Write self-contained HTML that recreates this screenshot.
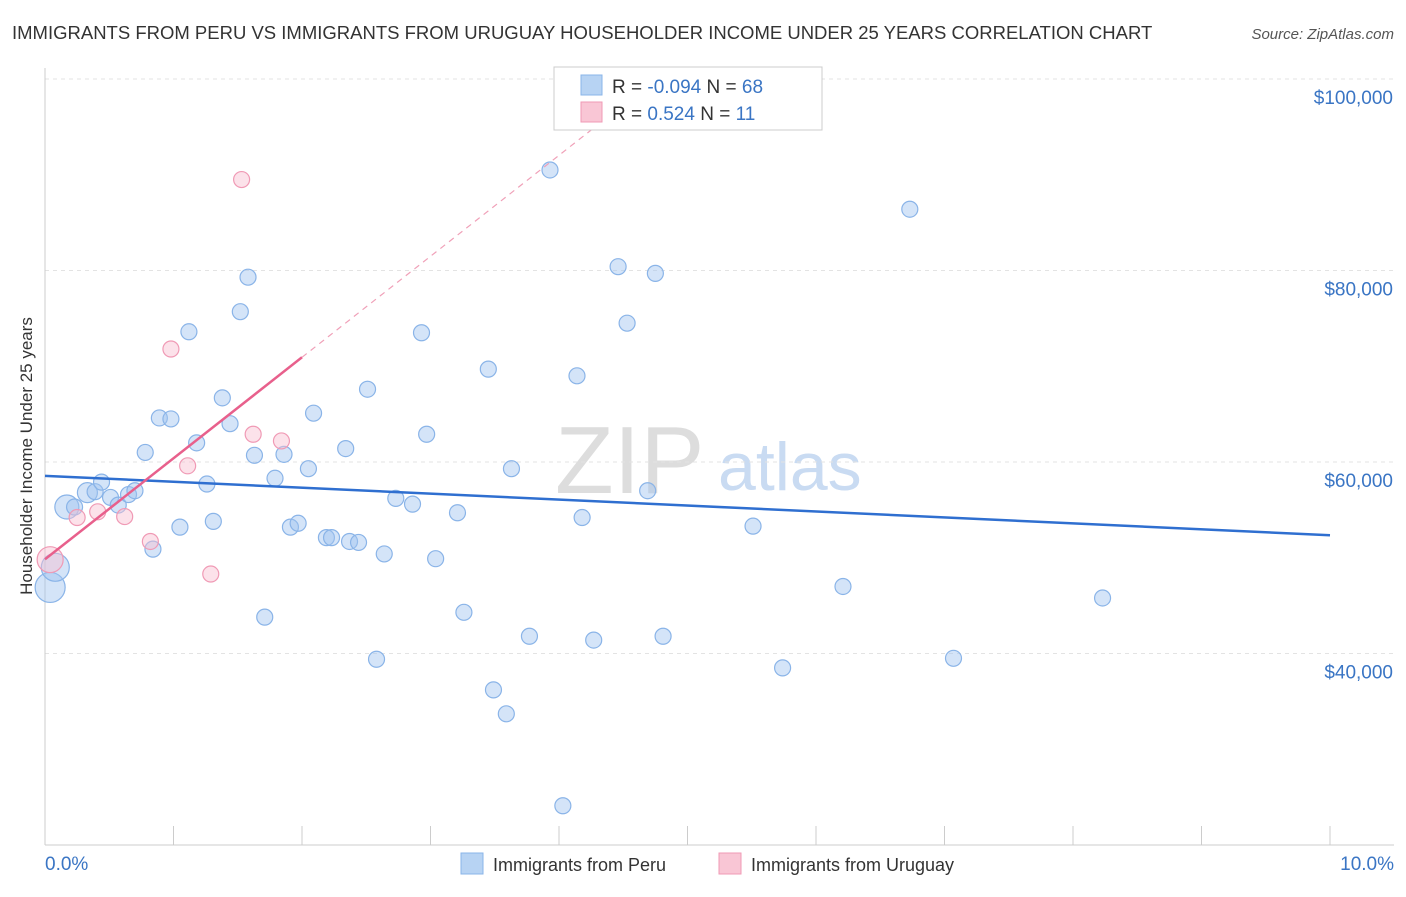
<!DOCTYPE html>
<html><head><meta charset="utf-8"><style>
body{margin:0;background:#fff;font-family:"Liberation Sans",sans-serif}
svg text{font-family:"Liberation Sans",sans-serif}
</style></head><body>
<svg id="c" width="1406" height="892">
<text x="12" y="39" font-size="18.5" fill="#333">IMMIGRANTS FROM PERU VS IMMIGRANTS FROM URUGUAY HOUSEHOLDER INCOME UNDER 25 YEARS CORRELATION CHART</text>
<text x="1394" y="39" font-size="15" fill="#555" font-style="italic" text-anchor="end">Source: ZipAtlas.com</text>
<text x="32" y="456" font-size="17" fill="#333" transform="rotate(-90 32 456)" text-anchor="middle">Householder Income Under 25 years</text>
<text x="555" y="493" font-size="96" fill="#ddd" font-family="Liberation Serif">ZIP</text>
<text x="718" y="490" font-size="68" fill="#c9dbf2">atlas</text>
<g id="grid"></g><g id="axes"></g><g id="marks"></g>
<g>
<rect x="554" y="67" width="268" height="63" fill="#fff" stroke="#ccc"/>
<rect x="581" y="75" width="21" height="20" fill="#b7d3f3" stroke="#8ab4e8"/>
<rect x="581" y="102" width="21" height="20" fill="#f9c6d5" stroke="#f09ab5"/>
<text x="612" y="93" font-size="19" fill="#333">R = <tspan fill="#3a75c4">-0.094</tspan>   N = <tspan fill="#3a75c4">68</tspan></text>
<text x="612" y="120" font-size="19" fill="#333">R =  <tspan fill="#3a75c4"> 0.524</tspan>   N =  <tspan fill="#3a75c4"> 11</tspan></text>
</g>
<g>
<rect x="461" y="853" width="22" height="21" fill="#b7d3f3" stroke="#8ab4e8"/>
<text x="493" y="871" font-size="18" fill="#333">Immigrants from Peru</text>
<rect x="719" y="853" width="22" height="21" fill="#f9c6d5" stroke="#f09ab5"/>
<text x="751" y="871" font-size="18" fill="#333">Immigrants from Uruguay</text>
</g>
</svg>
<script>
const xTicks=[0,1,2,3,4,5,6,7,8,9,10];
const yTicks=[40000,60000,80000,100000];
const yTickLabels=["$40,000","$60,000","$80,000","$100,000"];
const peruX=[0.04,0.08,0.17,0.23,0.33,0.39,0.44,0.51,0.57,0.65,0.70,0.78,0.84,0.89,0.98,1.05,1.12,1.18,1.26,1.31,1.38,1.44,1.52,1.58,1.63,1.71,1.79,1.86,1.91,1.97,2.05,2.09,2.19,2.23,2.37,2.44,2.34,2.51,2.58,2.64,2.73,2.86,2.93,2.97,3.04,3.21,3.26,3.45,3.49,3.59,3.63,3.77,3.93,4.03,4.14,4.18,4.27,4.46,4.53,4.69,4.75,4.81,5.51,5.74,6.21,6.73,7.07,8.23];
const peruY=[46.9,49.0,55.3,55.3,56.8,56.9,57.9,56.3,55.5,56.6,57.0,61.0,50.9,64.6,64.5,53.2,73.6,62.0,57.7,53.8,66.7,64.0,75.7,79.3,60.7,43.8,58.3,60.8,53.2,53.6,59.3,65.1,52.1,52.1,51.7,51.6,61.4,67.6,39.4,50.4,56.2,55.6,73.5,62.9,49.9,54.7,44.3,69.7,36.2,33.7,59.3,41.8,90.5,24.1,69.0,54.2,41.4,80.4,74.5,57.0,79.7,41.8,53.3,38.5,47.0,86.4,39.5,45.8];
const uruX=[0.04,0.25,0.41,0.62,0.82,0.98,1.11,1.29,1.53,1.62,1.84];
const uruY=[49.8,54.2,54.8,54.3,51.7,71.8,59.6,48.3,89.5,62.9,62.2];
const bigIdx={0:15,1:14,2:12,4:10};
const xs=v=>45+v*128.5, ys=k=>462-(k-60)*9.575;
const NS="http://www.w3.org/2000/svg";
function mk(p,t,a){const e=document.createElementNS(NS,t);for(const k in a)e.setAttribute(k,a[k]);document.getElementById(p).appendChild(e);return e;}
yTicks.forEach((v,i)=>{const y=ys(v/1000);
const g=mk('grid','line',{x1:45,x2:1394,y1:y,y2:y,stroke:'#e3e3e3','stroke-dasharray':'4,4'});


const t=mk('axes','text',{x:1393,y:y+25,'font-size':19,fill:'#3a75c4','text-anchor':'end'});t.textContent=yTickLabels[i];

});
mk('axes','line',{x1:45,x2:45,y1:68,y2:845,stroke:'#ccc'});
mk('axes','line',{x1:45,x2:1394,y1:845,y2:845,stroke:'#ccc'});
xTicks.forEach(v=>{const l=mk('axes','line',{x1:xs(v),x2:xs(v),y1:826,y2:845,stroke:'#ccc'});

});
const t0=mk('axes','text',{x:45,y:870,'font-size':19,fill:'#3a75c4'});t0.textContent="0.0%";


const t1=mk('axes','text',{x:1394,y:870,'font-size':19,fill:'#3a75c4','text-anchor':'end'});t1.textContent="10.0%";


function reg(X,Y){const n=X.length;let mx=0,my=0;X.forEach((x,i)=>{mx+=x;my+=Y[i]});mx/=n;my/=n;let sxy=0,sxx=0;X.forEach((x,i)=>{sxy+=(x-mx)*(Y[i]-my);sxx+=(x-mx)**2});const b=sxy/sxx;return [my-b*mx,b];}
peruX.forEach((x,i)=>{const c=mk('marks','circle',{cx:xs(x),cy:ys(peruY[i]),r:bigIdx[i]||8,fill:'rgba(160,196,240,0.45)',stroke:'#8ab4e8','stroke-width':1.2});

});
uruX.forEach((x,i)=>{const c=mk('marks','circle',{cx:xs(x),cy:ys(uruY[i]),r:i==0?13:8,fill:'rgba(248,190,208,0.45)',stroke:'#f09ab5','stroke-width':1.2});

});
const [a1,b1]=reg(peruX,peruY);
const bl=mk('marks','line',{x1:xs(0),y1:ys(a1),x2:xs(10),y2:ys(a1+b1*10),stroke:'#2f6fd0','stroke-width':2.5});


const [a2,b2]=reg(uruX,uruY);
const xe=Math.max(...uruX)+0.16;
const pl=mk('marks','line',{x1:xs(0),y1:ys(a2),x2:xs(xe),y2:ys(a2+b2*xe),stroke:'#e8608c','stroke-width':2.5});


const xt=(95-a2)/b2;
const pd=mk('marks','line',{x1:xs(xe),y1:ys(a2+b2*xe),x2:xs(xt),y2:ys(95),stroke:'#f0a0b8','stroke-width':1.2,'stroke-dasharray':'6,5'});


</script>
</body></html>
